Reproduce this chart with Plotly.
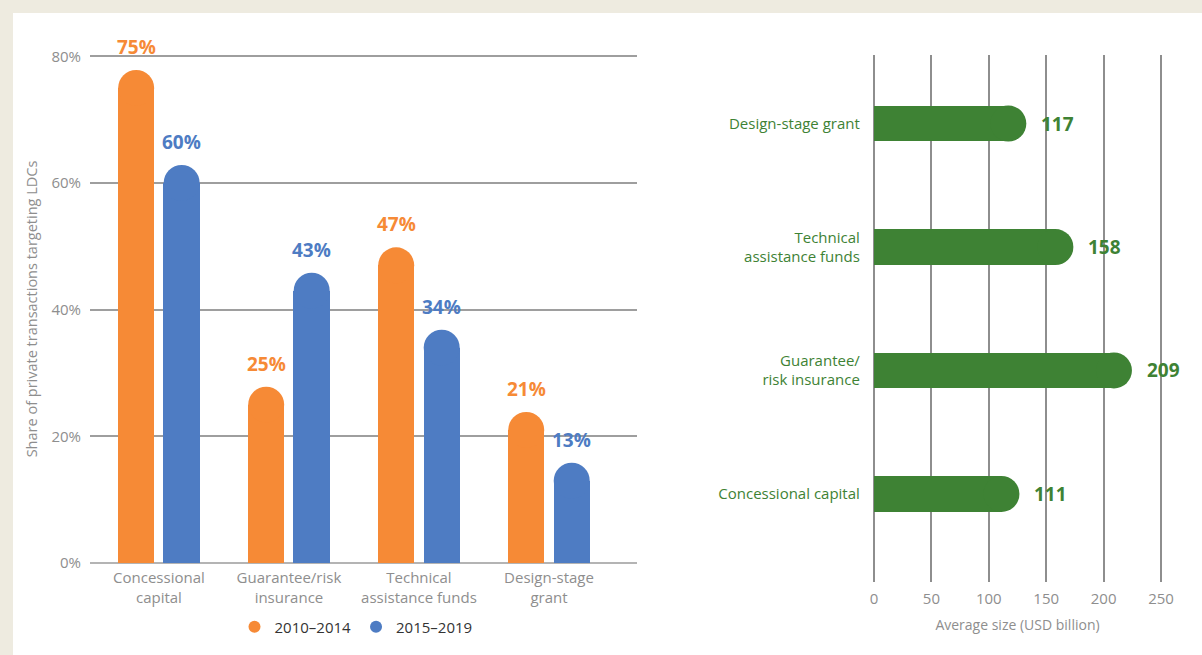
import plotly.graph_objects as go

# data
categories = ["Concessional capital", "Guarantee/risk insurance",
              "Technical assistance funds", "Design-stage grant"]
cat_ticks = ["Concessional<br>capital", "Guarantee/risk<br>insurance",
             "Technical<br>assistance funds", "Design-stage<br>grant"]
share_2010_2014 = [75, 25, 47, 21]
share_2015_2019 = [60, 43, 34, 13]

size_cats = ["Concessional capital", "Guarantee/<br>risk insurance",
             "Technical<br>assistance funds", "Design-stage grant"]
avg_size = [111, 209, 158, 117]
size_ticks = [0, 50, 100, 150, 200, 250]

ORANGE = "#F68A36"
BLUE = "#4E7CC3"
GREEN = "#3E8234"
GRAY = "#8E8E8E"
FONT = "Open Sans"

W, H = 1202, 655
BARW = 0.28
CAP = 36  # px diameter of rounded caps

fig = go.Figure()

xs = list(range(len(categories)))
series = [("2010–2014", share_2010_2014, ORANGE, -0.175),
          ("2015–2019", share_2015_2019, BLUE, 0.175)]

for name, vals, col, off in series:
    px = [i + off for i in xs]
    fig.add_trace(go.Bar(x=px, y=vals, width=BARW, marker_color=col,
                         marker_line_width=0, showlegend=False,
                         xaxis="x", yaxis="y", hoverinfo="skip"))
    fig.add_trace(go.Scatter(x=px, y=vals, mode="markers", showlegend=False,
                             marker=dict(size=CAP, color=col, line_width=0),
                             xaxis="x", yaxis="y", cliponaxis=False))
    for xv, v in zip(px, vals):
        fig.add_annotation(x=xv, y=v, xref="x", yref="y", text=f"<b>{v}%</b>",
                           showarrow=False, yanchor="bottom", yshift=26,
                           font=dict(size=19, color=col, family=FONT))
    fig.add_trace(go.Scatter(x=[None], y=[None], mode="markers", name=name,
                             marker=dict(size=14, color=col),
                             xaxis="x", yaxis="y"))

# right chart: horizontal bars
ys = list(range(len(size_cats)))
fig.add_trace(go.Bar(x=avg_size, y=ys, orientation="h", width=0.29,
                     marker_color=GREEN, marker_line_width=0, showlegend=False,
                     xaxis="x2", yaxis="y2"))
fig.add_trace(go.Scatter(x=avg_size, y=ys, mode="markers", showlegend=False,
                         marker=dict(size=CAP, color=GREEN, line_width=0),
                         xaxis="x2", yaxis="y2", cliponaxis=False))
for yv, v in zip(ys, avg_size):
    fig.add_annotation(x=v, y=yv, xref="x2", yref="y2", text=f"<b>{v}</b>",
                       showarrow=False, xanchor="left", xshift=31,
                       font=dict(size=19, color=GREEN, family=FONT))

fig.update_layout(
    width=W, height=H,
    margin=dict(l=0, r=0, t=0, b=0, autoexpand=False),
    paper_bgcolor="#EEEBE0",
    plot_bgcolor="rgba(0,0,0,0)",
    font=dict(family=FONT, color=GRAY, size=15),
    bargap=0,
    shapes=[dict(type="rect", xref="paper", yref="paper", x0=13 / W, x1=1,
                 y0=0, y1=1 - 13 / H, fillcolor="white", line_width=0,
                 layer="below")],
    xaxis=dict(domain=[90 / W, 637 / W], range=[-0.53, 3.677],
               tickvals=xs, ticktext=cat_ticks, showgrid=False,
               zeroline=False, showline=False, ticks="",
               ticklabelstandoff=4,
               tickfont=dict(size=15, color=GRAY)),
    yaxis=dict(domain=[1 - 563 / H, 1 - 55 / H], range=[0, 80.2],
               tickvals=[0, 20, 40, 60, 80],
               ticktext=["0%", "20%", "40%", "60%", "80%"],
               showgrid=True, gridcolor="#9E9E9E", gridwidth=1.5,
               zeroline=True, zerolinecolor="#B4B4B4", zerolinewidth=2,
               ticks="", ticklabelstandoff=8,
               tickfont=dict(size=15, color=GRAY),
               title=dict(text="Share of private transactions targeting LDCs",
                          font=dict(size=14.5, color=GRAY), standoff=10)),
    xaxis2=dict(domain=[872.85 / W, 1162.15 / W], range=[-1, 251],
                tickvals=size_ticks, showgrid=True, gridcolor=GRAY,
                gridwidth=2, zeroline=False, showline=False, ticks="",
                tickfont=dict(size=15, color=GRAY), ticklabelstandoff=6,
                anchor="y2",
                title=dict(text="Average size (USD billion)",
                           font=dict(size=14, color=GRAY), standoff=13)),
    yaxis2=dict(domain=[1 - 582 / H, 1 - 55 / H], range=[-0.713, 3.555],
                tickvals=ys, ticktext=size_cats, showgrid=False,
                zeroline=False, showline=False, ticks="", anchor="x2",
                ticklabelstandoff=12,
                tickfont=dict(size=15, color=GREEN)),
    legend=dict(orientation="h", x=356 / W, xanchor="center",
                y=1 - 627 / H, yanchor="middle",
                font=dict(size=15, color="#333333"), bgcolor="rgba(0,0,0,0)",
                itemsizing="constant"),
)

fig.write_html("out.html", config={"displayModeBar": False},
               post_script="document.body.style.margin='0';"
                           "document.body.style.overflow='hidden';")
